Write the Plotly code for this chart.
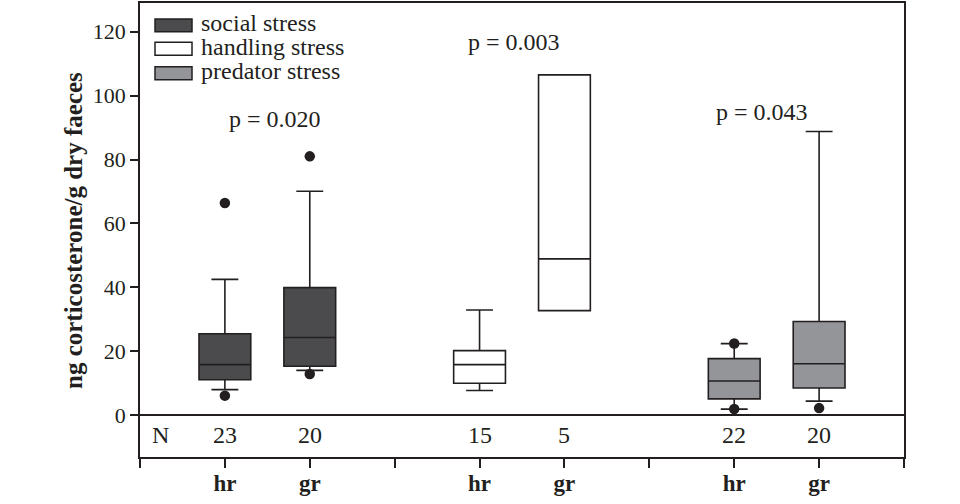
import plotly.graph_objects as go

# ---- data ----
groups = ["social stress", "handling stress", "predator stress"]
treatments = ["hr", "gr"]
q1 = [[11.1, 15.3], [10.0, 32.7], [5.1, 8.5]]
median = [[15.8, 24.3], [15.8, 48.9], [10.7, 16.1]]
q3 = [[25.5, 39.9], [20.2, 106.5], [17.7, 29.3]]
lowerfence = [[8.0, 14.0], [7.7, 32.7], [1.9, 4.4]]
upperfence = [[42.5, 70.1], [32.9, 106.5], [22.4, 88.8]]
outliers = [[[6.1, 66.4], [12.9, 81.0]], [[], []], [[1.9, 22.4], [2.2]]]
n_values = [[23, 20], [15, 5], [22, 20]]
p_values = ["p = 0.020", "p = 0.003", "p = 0.043"]
y_ticks = [0, 20, 40, 60, 80, 100, 120]

# ---- style / layout ----
fills = ["#4b4b4d", "#ffffff", "#939598"]
ink = "#231f20"
serif = "Liberation Serif"
W, H = 960, 504
ML, MR, MT, MB = 140, 56, 1, 47
PW, PH = W - ML - MR, H - MT - MB


def px_x(px):
    return (px - ML) / PW


def px_y(py):
    return 1 - (py - MT) / PH


p_label_pos = [(1.59, 92.6), (4.41, 116.9), (7.33, 94.8)]
n_row_y = -6.2
legend_rows = [23.5, 47, 71.5]

fig = go.Figure()
tickvals, ticktext = [], []
for g, name in enumerate(groups):
    base = g * 3
    tickvals.append(base)
    ticktext.append("")
    for j, t in enumerate(treatments):
        x = base + 1 + j
        tickvals.append(x)
        ticktext.append(t)
        fig.add_trace(go.Box(
            x=[x], q1=[q1[g][j]], median=[median[g][j]], q3=[q3[g][j]],
            lowerfence=[lowerfence[g][j]], upperfence=[upperfence[g][j]],
            width=0.61, whiskerwidth=0.52, fillcolor=fills[g],
            line=dict(color=ink, width=1.6), boxpoints=False,
            name=name, showlegend=False, hoverinfo="skip"))
        if outliers[g][j]:
            fig.add_trace(go.Scatter(
                x=[x] * len(outliers[g][j]), y=outliers[g][j], mode="markers",
                marker=dict(color=ink, size=10.5), showlegend=False, hoverinfo="skip"))
        fig.add_annotation(x=x, y=n_row_y, text=str(n_values[g][j]), showarrow=False,
                           font=dict(family=serif, size=24, color=ink))
    px_, py_ = p_label_pos[g]
    fig.add_annotation(x=px_, y=py_, text=p_values[g], showarrow=False,
                       font=dict(family=serif, size=24, color=ink))

    # legend entry (swatch + label)
    cy = legend_rows[g]
    fig.add_shape(type="rect", xref="paper", yref="paper",
                  x0=px_x(155), x1=px_x(192), y0=px_y(cy - 6.5), y1=px_y(cy + 6.5),
                  fillcolor=fills[g], line=dict(color=ink, width=1.5))
    fig.add_annotation(xref="paper", yref="paper", x=px_x(199), y=px_y(cy - 2),
                       xanchor="left", yanchor="middle", text=name, showarrow=False,
                       font=dict(family=serif, size=24, color=ink))
tickvals.append(9)
ticktext.append("")

fig.add_annotation(x=0.24, y=n_row_y, text="N", showarrow=False,
                   font=dict(family=serif, size=24, color=ink))
fig.add_annotation(xref="paper", yref="paper", x=px_x(74), y=px_y(230),
                   xanchor="center", yanchor="middle",
                   text="ng corticosterone/g dry faeces", textangle=-90,
                   showarrow=False, font=dict(family=serif, size=25, color=ink, weight="bold"))

fig.update_layout(
    width=W, height=H, margin=dict(l=ML, r=MR, t=MT, b=MB),
    paper_bgcolor="white", plot_bgcolor="white",
    font=dict(family=serif, color=ink),
    showlegend=False,
    xaxis=dict(range=[0, 9], tickvals=tickvals, ticktext=ticktext,
               showline=True, linecolor=ink, linewidth=1.5, mirror=True,
               ticks="outside", ticklen=9, tickwidth=1.5, tickcolor=ink,
               showgrid=False, zeroline=False, ticklabelstandoff=-4,
               tickfont=dict(family=serif, size=23, color=ink, weight="bold")),
    yaxis=dict(range=[-13.1, 129], tickvals=y_ticks,
               showline=True, linecolor=ink, linewidth=1.5, mirror=True,
               ticks="outside", ticklen=8, tickwidth=1.5, tickcolor=ink,
               showgrid=False, zeroline=True, zerolinecolor=ink, zerolinewidth=1.5,
               tickfont=dict(family=serif, size=22, color=ink)),
)

fig.write_html("out.html")
